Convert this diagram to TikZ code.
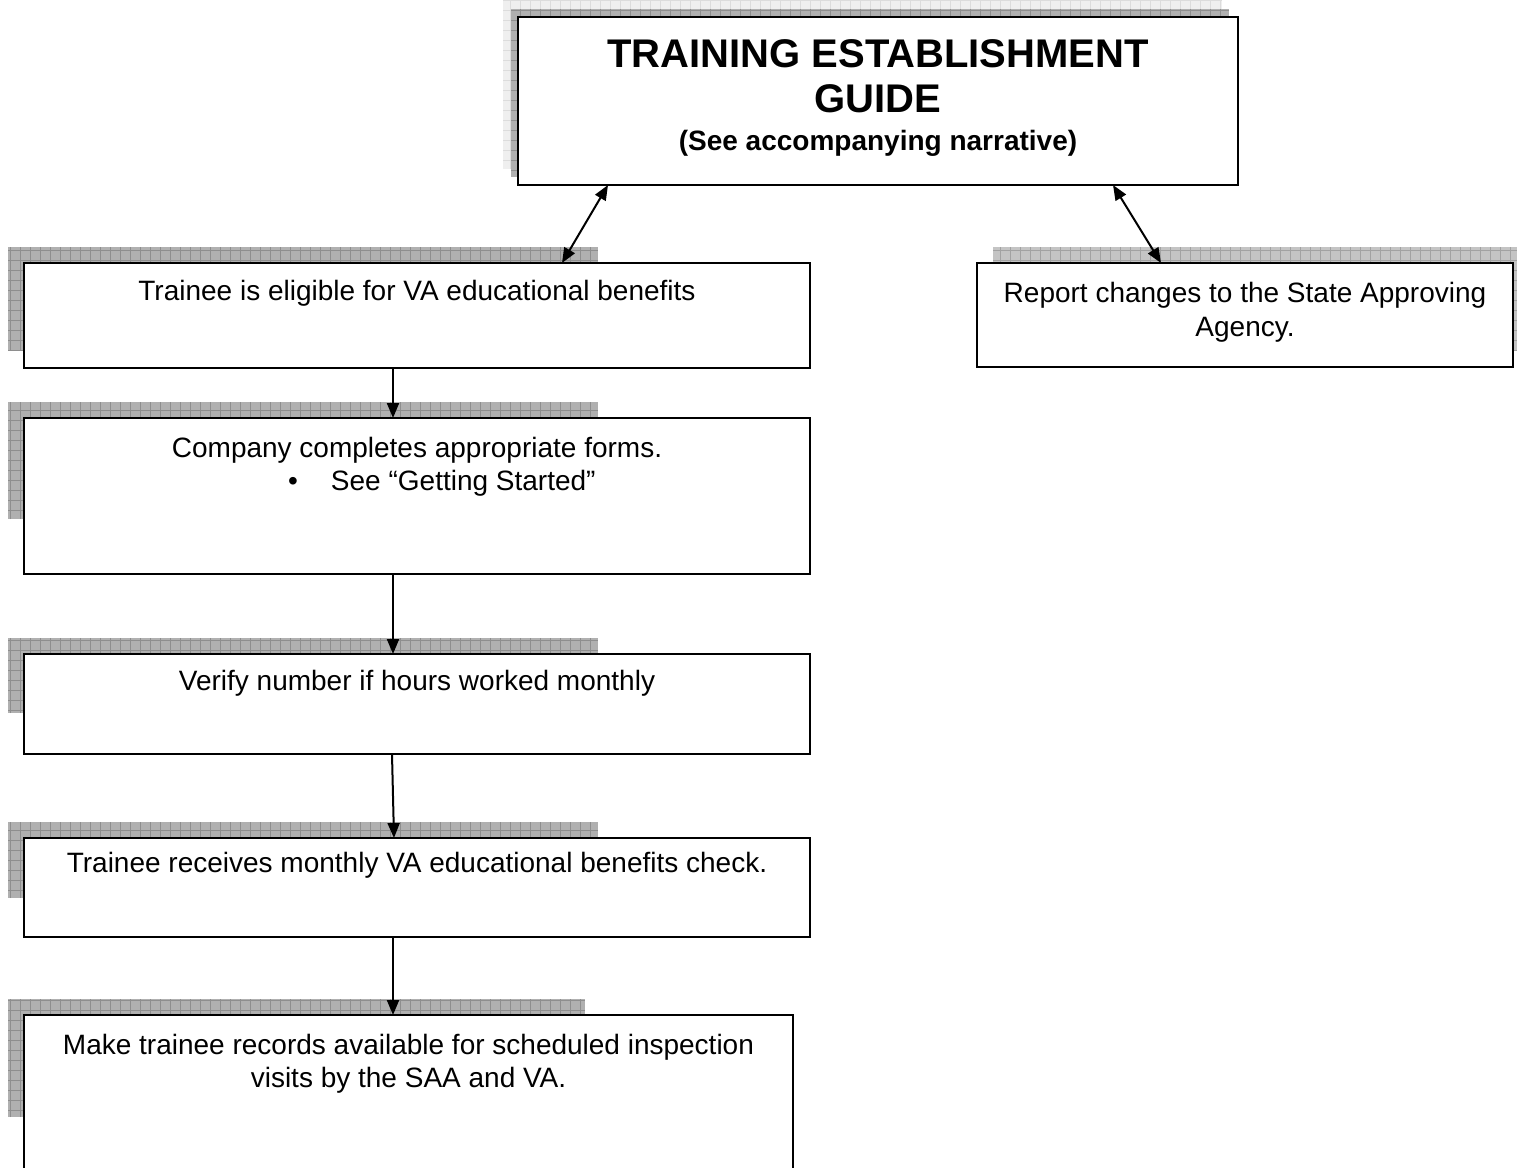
\documentclass[tikz,border=0pt]{standalone}
\usepackage{fontspec}
\setmainfont{Liberation Sans}
\usetikzlibrary{arrows.meta,calc}
\definecolor{shdark}{HTML}{B0B0B0}
\definecolor{shdarkline}{HTML}{8E8E8E}
\definecolor{shmid}{HTML}{C4C4C4}
\definecolor{shmidline}{HTML}{A2A2A2}
\definecolor{shlight}{HTML}{EFEFEF}
\definecolor{shlightline}{HTML}{DCDCDC}
\tikzset{
  box/.style={draw=black, line width=2.2pt, fill=white, rectangle, anchor=north west, inner sep=0pt, outer sep=0pt},
  body/.style={inner sep=0pt, font=\fontsize{28}{33}\selectfont, anchor=base},
  titlef/.style={inner sep=0pt, font=\fontsize{40}{46}\selectfont\bfseries, anchor=base},
  subf/.style={inner sep=0pt, font=\fontsize{28}{33}\selectfont\bfseries, anchor=base},
  conn/.style={line width=2pt, -{Triangle[length=15pt,width=12pt]}},
  dconn/.style={line width=2pt, {Triangle[length=15pt,width=12pt]}-{Triangle[length=15pt,width=12pt]}},
  gridl/.style={line width=0.8pt},
}
\newcommand{\shadowrect}[4]{%
  \fill[#3] #1 rectangle #2;
  \begin{scope}
    \clip #1 rectangle #2;
    \draw[gridl,#4,step=10pt] #1 grid #2;
  \end{scope}}
\begin{document}
\begin{tikzpicture}[x=1pt,y=-1pt]
\useasboundingbox (0,0) rectangle (1517,1167);
\clip (0,0) rectangle (1517,1167);
\fill[white] (0,0) rectangle (1517,1167);

% shadows
\shadowrect{(503,0)}{(1222,169)}{shlight}{shlightline}
\shadowrect{(511,9)}{(1229,177)}{shdark}{shdarkline}
\shadowrect{(8,247)}{(598,350)}{shdark}{shdarkline}
\shadowrect{(993,247)}{(1517,350)}{shmid}{shmidline}
\shadowrect{(8,402)}{(598,519)}{shdark}{shdarkline}
\shadowrect{(8,638)}{(598,713)}{shdark}{shdarkline}
\shadowrect{(8,822)}{(598,898)}{shdark}{shdarkline}
\shadowrect{(8,999)}{(585,1117)}{shdark}{shdarkline}

% boxes
\node[box, minimum width=720pt, minimum height=168pt] (top) at (518,17) {};
\node[box, minimum width=786pt, minimum height=105pt] (b1) at (24,263) {};
\node[box, minimum width=536pt, minimum height=104pt] (rb) at (977,263) {};
\node[box, minimum width=786pt, minimum height=156pt] (b2) at (24,418) {};
\node[box, minimum width=786pt, minimum height=100pt] (b3) at (24,654) {};
\node[box, minimum width=786pt, minimum height=99pt] (b4) at (24,838) {};
\node[box, minimum width=769pt, minimum height=190pt] (b5) at (24,1015) {};

% texts
\node[titlef] (tt1) at ([yshift=-50pt]top.north) {TRAINING ESTABLISHMENT};
\node[titlef] (tt2) at ([yshift=-95pt]top.north) {GUIDE};
\node[subf] (tt3) at ([yshift=-133pt]top.north) {(See accompanying narrative)};

\node[body] (t1) at ([yshift=-37pt]b1.north) {Trainee is eligible for VA educational benefits};
\node[body] (tr1) at ([yshift=-39pt]rb.north) {Report changes to the State Approving};
\node[body] (tr2) at ([yshift=-73pt]rb.north) {Agency.};
\node[body] (t2a) at ([yshift=-39pt]b2.north) {Company completes appropriate forms.};
\node[body, anchor=base west] (t2b) at ([xshift=264pt,yshift=-72pt]b2.north west) {\textbullet\hspace{33pt}See “Getting Started”};
\node[body] (t3) at ([yshift=-36pt]b3.north) {Verify number if hours worked monthly};
\node[body] (t4) at ([yshift=-34pt]b4.north) {Trainee receives monthly VA educational benefits check.};
\node[body] (t5a) at ([yshift=-39pt]b5.north) {Make trainee records available for scheduled inspection};
\node[body] (t5b) at ([yshift=-72pt]b5.north) {visits by the SAA and VA.};

% connectors
\draw[dconn] ([xshift=-270pt]top.south) -- ([xshift=145pt]b1.north);
\draw[dconn] ([xshift=235pt]top.south) -- ([xshift=-84pt]rb.north);
\draw[conn] ([xshift=-24pt]b1.south) -- ([xshift=-24pt]b2.north);
\draw[conn] ([xshift=-24pt]b2.south) -- ([xshift=-24pt]b3.north);
\draw[conn] ([xshift=-25pt]b3.south) -- ([xshift=-23pt]b4.north);
\draw[conn] ([xshift=-24pt]b4.south) -- ([xshift=-15.5pt]b5.north);
\end{tikzpicture}
\end{document}
